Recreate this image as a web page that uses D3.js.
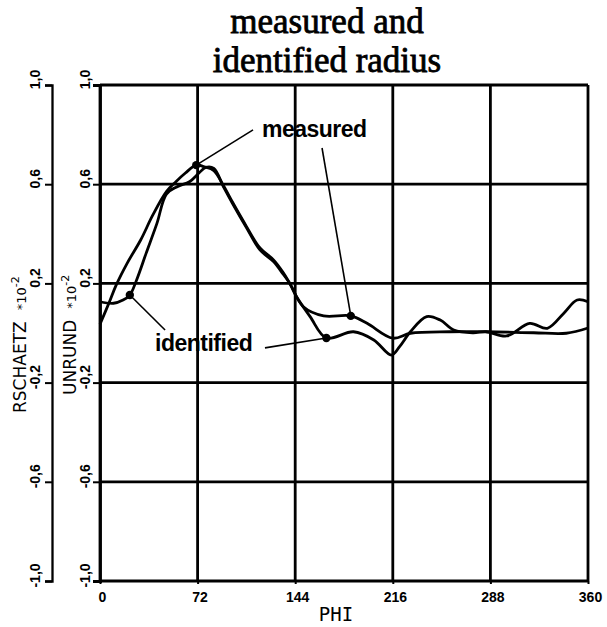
<!DOCTYPE html>
<html>
<head>
<meta charset="utf-8">
<script src="https://cdn.jsdelivr.net/npm/d3@7"></script>
<style>
  body { margin: 0; background: #fff; }
  svg { display: block; }
  .tick text { font-family: "Liberation Sans", Arial, sans-serif; font-weight: bold; font-size: 14px; fill: #000; }
  .tick line { stroke: #000; stroke-width: 2; }
</style>
</head>
<body>
<svg width="607" height="627"></svg>
<script>

// values
var phiMeasured = [0, 7, 12, 20, 30, 39, 49, 56, 63, 71, 77, 84, 91, 98, 108, 118, 128, 135, 140, 150, 165, 185, 197, 216, 229, 258, 285, 320, 344, 360];
var measured = [0.035, 0.126, 0.194, 0.281, 0.375, 0.476, 0.57, 0.61, 0.645, 0.677, 0.67, 0.655, 0.595, 0.525, 0.43, 0.343, 0.295, 0.245, 0.2, 0.106, 0.069, 0.069, 0.039, -0.021, -0.001, 0.005, 0.005, 0.001, -0.001, 0.02];

var phiIdentified = [0, 10, 17, 22, 27, 34, 42, 49, 57, 66, 73, 78, 84, 91, 98, 108, 118, 128, 135, 140, 145, 155, 167, 187, 202, 215, 221, 229, 241, 251, 261, 275, 285, 300, 317, 330, 342, 352, 360];
var identified = [0.126, 0.12, 0.133, 0.153, 0.214, 0.321, 0.442, 0.56, 0.59, 0.61, 0.645, 0.668, 0.664, 0.59, 0.52, 0.425, 0.335, 0.288, 0.238, 0.2, 0.146, 0.066, -0.02, 0.005, -0.028, -0.089, -0.055, 0.005, 0.066, 0.052, 0.012, 0.001, 0.005, -0.012, 0.039, 0.019, 0.079, 0.133, 0.126];

var xTicks = [0, 72, 144, 216, 288, 360];
var yTicks = [-1, -0.6, -0.2, 0.2, 0.6, 1];
var titleLines = ["measured and", "identified radius"];

// label text, leader start points and the dots they point at (data units)
var labelMeasured = {text: "measured", phi: 119.5, val: 0.79,
    leaders: [[112.9, 0.819, 71, 0.677], [163.8, 0.746, 185, 0.069]]};
var labelIdentified = {text: "identified", phi: 40.6, val: -0.073,
    leaders: [[48, 0.012, 22, 0.153], [121.7, -0.06, 167, -0.02]]};

var svg = d3.select("svg");

var x = d3.scaleLinear().domain([0, 360]).range([100, 588]);
var y = d3.scaleLinear().domain([-1, 1]).range([581, 85]);

function fmt(d) {
    return d3.format(".1f")(d).replace(".", ",").replace("\u2212", "-");
}

// title
svg.append("g").selectAll("text")
    .data(titleLines)
    .enter().append("text")
    .attr("x", 327)
    .attr("y", function(d, i) { return 33 + i * 39; })
    .attr("text-anchor", "middle")
    .attr("font-family", "'Liberation Serif', 'Times New Roman', serif")
    .attr("font-size", 35)
    .attr("fill", "#000")
    .attr("stroke", "#000")
    .attr("stroke-width", 0.8)
    .text(function(d) { return d; });

// grid
var grid = svg.append("g").attr("stroke", "#000").attr("stroke-width", 2.8);
grid.selectAll("line.h")
    .data(yTicks)
    .enter().append("line")
    .attr("x1", x(0)).attr("x2", x(360))
    .attr("y1", function(d) { return y(d); })
    .attr("y2", function(d) { return y(d); });
grid.selectAll("line.v")
    .data(xTicks)
    .enter().append("line")
    .attr("x1", function(d) { return x(d); })
    .attr("x2", function(d) { return x(d); })
    .attr("y1", y(1)).attr("y2", y(-1));

// x axis
var xAxis = svg.append("g")
    .attr("transform", "translate(0," + y(-1) + ")")
    .call(d3.axisBottom(x).tickValues(xTicks).tickSize(3).tickPadding(8).tickFormat(d3.format("d")));
xAxis.select(".domain").remove();
xAxis.selectAll("text").attr("dx", 2).attr("font-size", 15);

svg.append("text")
    .attr("x", 336).attr("y", 621)
    .attr("text-anchor", "middle")
    .attr("font-family", "'DejaVu Sans Mono', monospace")
    .attr("font-size", 19)
    .attr("fill", "#000")
    .text("PHI");

// two y axes, inner one is the plot border
function yAxis(xpos, labelY, width) {
    var g = svg.append("g")
        .attr("transform", "translate(" + xpos + ",0)")
        .call(d3.axisLeft(y).tickValues(yTicks).tickSize(7).tickFormat(fmt));
    g.select(".domain").attr("stroke", "#000").attr("stroke-width", width);
    g.selectAll("text")
        .attr("transform", "rotate(-90)")
        .attr("x", 6)
        .attr("y", labelY)
        .attr("dy", 0)
        .attr("text-anchor", "middle");
    return g;
}
yAxis(52, -12, 2.3);
yAxis(100, -10, 2.8);

function axisTitle(xpos, ypos, name) {
    var t = svg.append("text")
        .attr("transform", "translate(" + xpos + "," + ypos + ") rotate(-90)")
        .attr("font-family", "'DejaVu Sans', sans-serif")
        .attr("font-size", 17)
        .attr("fill", "#000");
    t.append("tspan").text(name);
    t.append("tspan").attr("dx", 11).attr("font-size", 13).text("*10");
    t.append("tspan").attr("dy", -7).attr("font-size", 11).text("-2");
}
axisTitle(26, 413, "RSCHAETZ");
axisTitle(76, 395, "UNRUND");

// curves
var line = d3.line()
    .x(function(d) { return x(d[0]); })
    .y(function(d) { return y(d[1]); })
    .curve(d3.curveCatmullRom.alpha(0.5));

var curves = [d3.zip(phiMeasured, measured), d3.zip(phiIdentified, identified)];
svg.append("g").selectAll("path")
    .data(curves)
    .enter().append("path")
    .attr("d", line)
    .attr("fill", "none")
    .attr("stroke", "#000")
    .attr("stroke-width", 2.8)
    .attr("stroke-linejoin", "round");

// labels with leaders
[labelMeasured, labelIdentified].forEach(function(lab) {
    var g = svg.append("g");
    g.selectAll("line")
        .data(lab.leaders)
        .enter().append("line")
        .attr("x1", function(d) { return x(d[0]); })
        .attr("y1", function(d) { return y(d[1]); })
        .attr("x2", function(d) { return x(d[2]); })
        .attr("y2", function(d) { return y(d[3]); })
        .attr("stroke", "#000")
        .attr("stroke-width", 1.6);
    g.selectAll("circle")
        .data(lab.leaders)
        .enter().append("circle")
        .attr("cx", function(d) { return x(d[2]); })
        .attr("cy", function(d) { return y(d[3]); })
        .attr("r", 4.2)
        .attr("fill", "#000");
    g.append("text")
        .attr("x", x(lab.phi))
        .attr("y", y(lab.val))
        .attr("font-family", "'Liberation Sans', Arial, sans-serif")
        .attr("font-weight", "bold")
        .attr("font-size", 23)
        .attr("letter-spacing", -0.5)
        .attr("fill", "#000")
        .text(lab.text);
});

</script>
</body>
</html>
